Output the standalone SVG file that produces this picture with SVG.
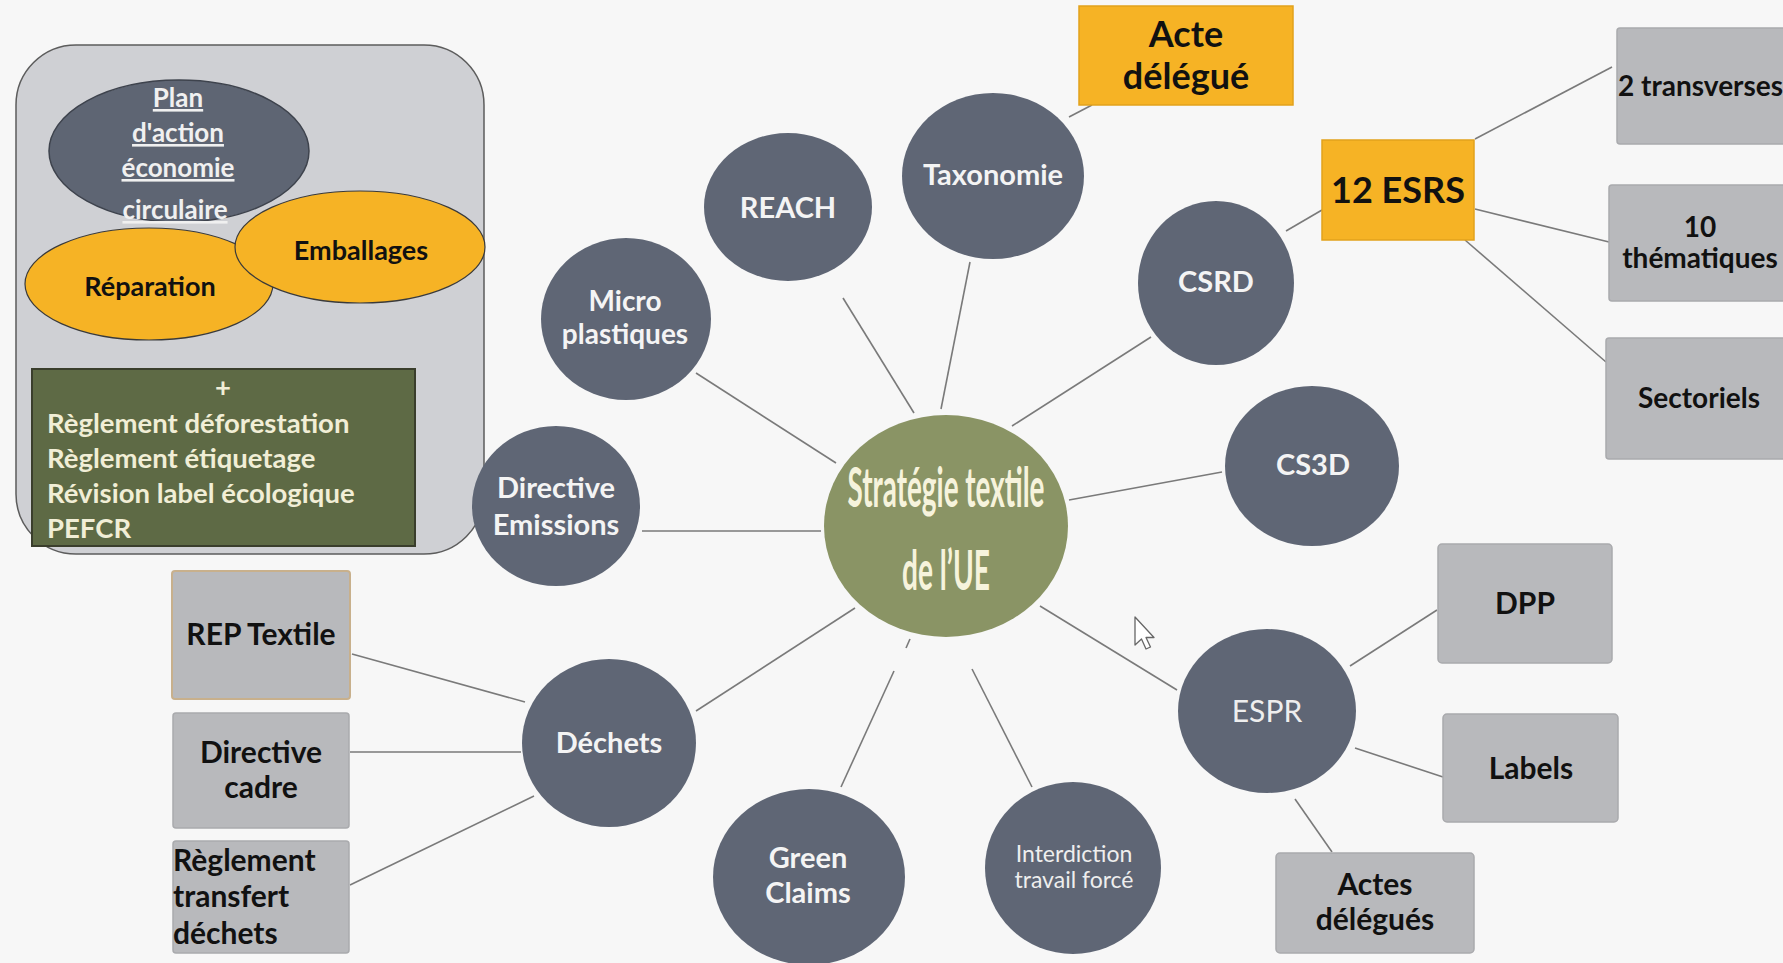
<svg xmlns="http://www.w3.org/2000/svg" width="1783" height="963" viewBox="0 0 1783 963">
<defs>
<style>
.bg{fill:#f7f7f7}
.circ{fill:#5f6675}
.ctext{font-family:Lato,"Open Sans","Liberation Sans",sans-serif;font-weight:700;font-size:29px;fill:#f4f4f4;text-anchor:middle}
.creg{font-family:Lato,"Open Sans","Liberation Sans",sans-serif;font-weight:400;fill:#eeeeee;text-anchor:middle}
.box{fill:#b8b9bc;stroke:#a9aaad;stroke-width:1.5}
.btext{font-family:Lato,"Open Sans","Liberation Sans",sans-serif;font-weight:700;font-size:30px;fill:#111;text-anchor:middle}
.orange{fill:#f6b325;stroke:#e2a21c;stroke-width:1.5}
.conn line{stroke:#7a7a7a;stroke-width:1.6}
.green{font-family:Lato,"Open Sans","Liberation Sans",sans-serif;font-weight:700;font-size:27.5px;fill:#f1eed6}
</style>
</defs>
<rect class="bg" x="0" y="0" width="1783" height="963"/>

<g id="connectors" class="conn">
<line x1="1069" y1="117" x2="1092" y2="105"/>
<line x1="914" y1="413" x2="843" y2="298"/>
<line x1="941" y1="409" x2="970" y2="262"/>
<line x1="836" y1="463" x2="696" y2="373"/>
<line x1="821" y1="531" x2="642" y2="531"/>
<line x1="1012" y1="426" x2="1151" y2="337"/>
<line x1="1286" y1="231" x2="1322" y2="210"/>
<line x1="1475" y1="139" x2="1612" y2="67"/>
<line x1="1475" y1="209" x2="1609" y2="242"/>
<line x1="1465" y1="240" x2="1606" y2="362"/>
<line x1="1069" y1="500" x2="1222" y2="472"/>
<line x1="1040" y1="606" x2="1177" y2="690"/>
<line x1="1350" y1="666" x2="1437" y2="610"/>
<line x1="1355" y1="748" x2="1443" y2="777"/>
<line x1="1295" y1="799" x2="1332" y2="852"/>
<line x1="972" y1="669" x2="1032" y2="787"/>
<line x1="894" y1="671" x2="841" y2="787"/>
<line x1="910" y1="639" x2="906" y2="648"/>
<line x1="855" y1="608" x2="696" y2="711"/>
<line x1="525" y1="702" x2="352" y2="654"/>
<line x1="521" y1="752" x2="350" y2="752"/>
<line x1="534" y1="796" x2="350" y2="885"/>
</g>

<g id="plan-group">
<rect x="16" y="45" width="468" height="509" rx="60" ry="60" fill="#cfd0d4" stroke="#5c5c5c" stroke-width="1.5"/>
<g id="plan">
<ellipse cx="179" cy="151" rx="130" ry="71" fill="#5e6573" stroke="#3e434d" stroke-width="1.5"/>
<g class="ctext" style="font-size:26px;font-weight:700;fill:#f0f0f0">
<text x="178" y="107" text-decoration="underline">Plan</text>
<text x="178" y="142" text-decoration="underline">d'action</text>
<text x="178" y="177" text-decoration="underline">économie</text>
<text x="175" y="219" text-decoration="underline">circulaire</text>
</g>
</g>
<g id="reparation">
<ellipse cx="149" cy="284" rx="124" ry="56" fill="#f6b325" stroke="#3a3a3a" stroke-width="1.2"/>
<text class="btext" x="150" y="296" style="font-size:27px">Réparation</text>
</g>
<g id="emballages">
<ellipse cx="360" cy="247" rx="125" ry="56" fill="#f6b325" stroke="#3a3a3a" stroke-width="1.2"/>
<text class="btext" x="361" y="260" style="font-size:27px">Emballages</text>
</g>
<g id="reglements">
<rect x="32" y="369" width="383" height="177" fill="#5e6a45" stroke="#3a3e2c" stroke-width="2"/>
<text class="green" x="223" y="397" text-anchor="middle">+</text>
<text class="green" x="47" y="433">Règlement déforestation</text>
<text class="green" x="47" y="468">Règlement étiquetage</text>
<text class="green" x="47" y="503">Révision label écologique</text>
<text class="green" x="47" y="538">PEFCR</text>
</g>
</g>

<g id="center">
<ellipse cx="946" cy="526" rx="122" ry="111" fill="#8a9465"/>
<text x="946" y="507" font-family="Lato,'Open Sans','Liberation Sans',sans-serif" font-weight="700" font-size="55" fill="#f6f3dc" text-anchor="middle" textLength="197" lengthAdjust="spacingAndGlyphs">Stratégie textile</text>
<text x="946" y="590" font-family="Lato,'Open Sans','Liberation Sans',sans-serif" font-weight="700" font-size="56" fill="#f6f3dc" text-anchor="middle" textLength="88" lengthAdjust="spacingAndGlyphs">de l’UE</text>
</g>

<g id="reach"><ellipse class="circ" cx="788" cy="207" rx="84" ry="74"/><text class="ctext" x="788" y="218">REACH</text></g>
<g id="taxonomie"><ellipse class="circ" cx="993" cy="176" rx="91" ry="83"/><text class="ctext" x="993" y="185">Taxonomie</text></g>
<g id="acte-delegue"><rect class="orange" x="1079" y="6" width="214" height="99"/>
<text class="btext" x="1186" y="47" style="font-size:36px">Acte</text>
<text class="btext" x="1186" y="89" style="font-size:36px">délégué</text></g>
<g id="micro"><ellipse class="circ" cx="626" cy="319" rx="85" ry="81"/><text class="ctext" x="625" y="311" style="font-size:28px">Micro</text><text class="ctext" x="625" y="344" style="font-size:28px">plastiques</text></g>
<g id="directive-emissions"><ellipse class="circ" cx="556" cy="506" rx="84" ry="80"/><text class="ctext" x="556" y="498">Directive</text><text class="ctext" x="556" y="535">Emissions</text></g>
<g id="csrd"><ellipse class="circ" cx="1216" cy="283" rx="78" ry="82"/><text class="ctext" x="1216" y="292">CSRD</text></g>
<g id="esrs"><rect class="orange" x="1322" y="140" width="152" height="100"/><text class="btext" x="1398" y="203" style="font-size:36px">12 ESRS</text></g>
<g id="transverses"><rect class="box" x="1617" y="28" width="180" height="116" rx="3"/><text class="btext" x="1618" y="96" style="text-anchor:start;font-size:28px">2 transverses</text></g>
<g id="thematiques"><rect class="box" x="1609" y="185" width="190" height="116" rx="3"/><text class="btext" x="1700" y="237" style="font-size:28px">10</text><text class="btext" x="1700" y="268" style="font-size:28px">thématiques</text></g>
<g id="sectoriels"><rect class="box" x="1606" y="338" width="190" height="121" rx="3"/><text class="btext" x="1699" y="408" style="font-size:28px">Sectoriels</text></g>
<g id="cs3d"><ellipse class="circ" cx="1312" cy="466" rx="87" ry="80"/><text class="ctext" x="1313" y="475">CS3D</text></g>
<g id="espr"><ellipse class="circ" cx="1267" cy="711" rx="89" ry="82"/><text class="creg" x="1267" y="722" font-size="30">ESPR</text></g>
<g id="dpp"><rect class="box" x="1438" y="544" width="174" height="119" rx="4"/><text class="btext" x="1525" y="614">DPP</text></g>
<g id="labels"><rect class="box" x="1443" y="714" width="175" height="108" rx="4"/><text class="btext" x="1531" y="779">Labels</text></g>
<g id="actes-delegues"><rect class="box" x="1276" y="853" width="198" height="100" rx="4"/><text class="btext" x="1375" y="895">Actes</text><text class="btext" x="1375" y="930">délégués</text></g>
<g id="interdiction"><ellipse class="circ" cx="1073" cy="868" rx="88" ry="86"/><text class="creg" x="1074" y="862" font-size="23">Interdiction</text><text class="creg" x="1074" y="888" font-size="23">travail forcé</text></g>
<g id="green-claims"><ellipse class="circ" cx="809" cy="877" rx="96" ry="88"/><text class="ctext" x="808" y="868">Green</text><text class="ctext" x="808" y="903">Claims</text></g>
<g id="dechets"><ellipse class="circ" cx="609" cy="743" rx="87" ry="84"/><text class="ctext" x="609" y="753">Déchets</text></g>
<g id="rep-textile"><rect x="172" y="571" width="178" height="128" rx="3" fill="#b8b9bc" stroke="#c8b08c" stroke-width="2"/><text class="btext" x="261" y="645">REP Textile</text></g>
<g id="directive-cadre"><rect class="box" x="173" y="713" width="176" height="115" rx="3"/><text class="btext" x="261" y="763">Directive</text><text class="btext" x="261" y="798">cadre</text></g>
<g id="reglement-transfert"><rect class="box" x="173" y="841" width="176" height="112" rx="3"/>
<text class="btext" x="173" y="871" style="text-anchor:start">Règlement</text>
<text class="btext" x="173" y="907" style="text-anchor:start">transfert</text>
<text class="btext" x="173" y="944" style="text-anchor:start">déchets</text></g>

<path d="M1135 617 L1135 645 L1141.5 639 L1146 649 L1150.5 647 L1146 637.5 L1154 637.5 Z" fill="#ffffff" stroke="#666" stroke-width="1.3" stroke-linejoin="round"/>
</svg>
